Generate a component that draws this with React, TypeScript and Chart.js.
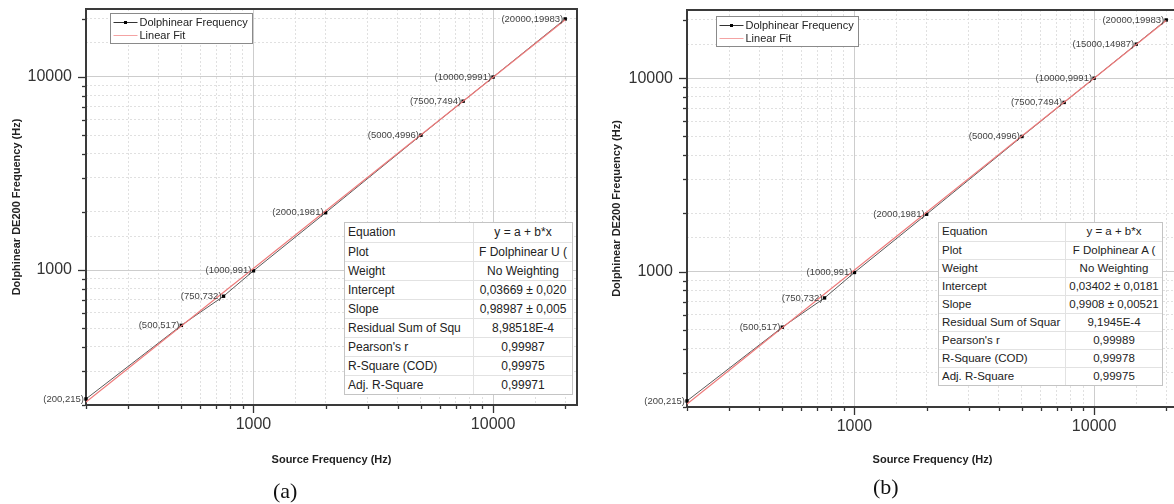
import React, { useEffect, useRef } from 'react';
import { Chart, registerables } from 'chart.js';

Chart.register(...registerables);

// ---------- data ----------
const sourceFreqA = [200, 500, 750, 1000, 2000, 5000, 7500, 10000, 20000];
const measuredA = [215, 517, 732, 991, 1981, 4996, 7494, 9991, 19983];
const fitXA = [200, 20000];
const fitYA = [207, 19800];

const sourceFreqB = [200, 500, 750, 1000, 2000, 5000, 7500, 10000, 15000, 20000];
const measuredB = [215, 517, 732, 991, 1981, 4996, 7494, 9991, 14987, 19983];
const fitXB = [200, 20000];
const fitYB = [207, 19850];

const axisMinX = 200;
const axisMaxX = 22400;
const axisMinY = 200;
const axisMaxY = 22500;
const labelledTicks = [1000, 10000];

const tableLabelsA = ['Equation', 'Plot', 'Weight', 'Intercept', 'Slope', 'Residual Sum of Squ', "Pearson's r", 'R-Square (COD)', 'Adj. R-Square'];
const tableValuesA = ['y = a + b*x', 'F Dolphinear U (', 'No Weighting', '0,03669 ± 0,020', '0,98987 ± 0,005', '8,98518E-4', '0,99987', '0,99975', '0,99971'];
const tableLabelsB = ['Equation', 'Plot', 'Weight', 'Intercept', 'Slope', 'Residual Sum of Squar', "Pearson's r", 'R-Square (COD)', 'Adj. R-Square'];
const tableValuesB = ['y = a + b*x', 'F Dolphinear A (', 'No Weighting', '0,03402 ± 0,0181', '0,9908 ± 0,00521', '9,1945E-4', '0,99989', '0,99978', '0,99975'];

const FONT = "'Liberation Sans', Arial, Helvetica, sans-serif";
const DATA_COLOR = '#5a5a5a';
const FIT_COLOR = '#ee7a7a';

function isMajorVal(v: any) {
  if (typeof v !== 'number' || v <= 0) return false;
  const l = Math.log10(v);
  return Math.abs(l - Math.round(l)) < 1e-9;
}
function isNiceVal(v: number) {
  if (v <= 0) return false;
  const p = Math.pow(10, Math.floor(Math.log10(v) + 1e-9));
  const s = v / p;
  return Math.abs(s - Math.round(s)) < 1e-6;
}

const originPlugin = {
  id: 'originStyle',
  beforeDatasetsDraw(chart: any) {
    const { ctx, chartArea: a } = chart;
    ctx.save();
    ctx.strokeStyle = '#3a3a3a';
    ctx.lineWidth = 2;
    ctx.strokeRect(a.left, a.top, a.right - a.left, a.bottom - a.top);
    ctx.restore();
  },
  afterDraw(chart: any, _args: any, opts: any) {
    const { ctx, chartArea: a, scales } = chart;
    ctx.save();
    // outward tick marks
    ctx.strokeStyle = '#333';
    ctx.lineWidth = 1.3;
    for (const t of scales.x.ticks) {
      if (!isNiceVal(t.value)) continue;
      const px = Math.round(scales.x.getPixelForValue(t.value)) + 0.5;
      const len = isMajorVal(t.value) ? 8 : 4;
      ctx.beginPath();
      ctx.moveTo(px, a.bottom + 1);
      ctx.lineTo(px, a.bottom + len);
      ctx.stroke();
    }
    for (const t of scales.y.ticks) {
      if (!isNiceVal(t.value)) continue;
      const py = Math.round(scales.y.getPixelForValue(t.value)) + 0.5;
      const len = isMajorVal(t.value) ? 8 : 4;
      ctx.beginPath();
      ctx.moveTo(a.left - 1, py);
      ctx.lineTo(a.left - len, py);
      ctx.stroke();
    }
    // point labels
    const ds = chart.data.datasets[1];
    const meta = chart.getDatasetMeta(1);
    ctx.font = `9.5px ${FONT}`;
    ctx.fillStyle = '#444';
    ctx.textAlign = 'right';
    ctx.textBaseline = 'middle';
    meta.data.forEach((el: any, i: number) => {
      const p = ds.data[i];
      ctx.fillText(`(${p.x},${p.y})`, el.x - 2, el.y);
    });
    // legend
    const bx = a.left + opts.legendX + 0.5;
    const by = a.top + opts.legendY + 0.5;
    const bw = 142;
    const bh = 30;
    ctx.fillStyle = '#fff';
    ctx.fillRect(bx, by, bw, bh);
    ctx.strokeStyle = '#8a8a8a';
    ctx.lineWidth = 1;
    ctx.strokeRect(bx, by, bw, bh);
    const items = [chart.data.datasets[1], chart.data.datasets[0]];
    items.forEach((d: any, i: number) => {
      const yy = by + 9 + i * 13;
      ctx.strokeStyle = i === 0 ? '#333' : '#f4a3a3';
      ctx.lineWidth = 1;
      ctx.beginPath();
      ctx.moveTo(bx + 3, yy);
      ctx.lineTo(bx + 27, yy);
      ctx.stroke();
      if (i === 0) {
        ctx.fillStyle = '#000';
        ctx.fillRect(bx + 13.5, yy - 1.5, 3, 3);
      }
      ctx.fillStyle = '#222';
      ctx.font = `11px ${FONT}`;
      ctx.textAlign = 'left';
      ctx.textBaseline = 'middle';
      ctx.fillText(d.label, bx + 29, yy + 0.5);
    });
    ctx.restore();
  },
};

const gridColor = (c: any) => (isMajorVal(c.tick?.value) ? '#cdcdcd' : '#e0e0e0');
const gridDash = (c: any) => (c.tick && !isMajorVal(c.tick.value) ? [2, 2] : []);
const tickCallback = (v: any) => (labelledTicks.includes(Number(v)) ? String(v) : '');
const zeroPadding = (s: any) => {
  s.paddingTop = 0;
  s.paddingBottom = 0;
  s.paddingLeft = 0;
  s.paddingRight = 0;
};

type PanelProps = {
  left: number;
  xs: number[];
  ys: number[];
  fitX: number[];
  fitY: number[];
  padTop: number;
  xAxisH: number;
  yAxisW: number;
  plotRight: number;
  legendX: number;
  legendY: number;
};

function ChartPanel(props: PanelProps) {
  const ref = useRef<HTMLCanvasElement>(null);
  useEffect(() => {
    const W = 600;
    const chart = new Chart(ref.current as HTMLCanvasElement, {
      type: 'scatter',
      data: {
        datasets: [
          {
            label: 'Linear Fit',
            data: props.fitX.map((x, i) => ({ x, y: props.fitY[i] })),
            showLine: true,
            borderColor: FIT_COLOR,
            borderWidth: 1.2,
            pointRadius: 0,
            order: 0,
          },
          {
            label: 'Dolphinear Frequency',
            data: props.xs.map((x, i) => ({ x, y: props.ys[i] })),
            showLine: true,
            borderColor: DATA_COLOR,
            borderWidth: 1,
            pointStyle: 'rect',
            pointRadius: 2.4,
            pointBackgroundColor: '#000',
            pointBorderColor: '#000',
            pointBorderWidth: 0,
            clip: false,
            order: 1,
          },
        ],
      },
      options: {
        responsive: false,
        animation: false,
        devicePixelRatio: 1,
        layout: { padding: { top: props.padTop, right: W - props.plotRight, left: 0, bottom: 0 } },
        plugins: {
          legend: { display: false },
          tooltip: { enabled: false },
          originStyle: { legendX: props.legendX, legendY: props.legendY },
        } as any,
        scales: {
          x: {
            type: 'logarithmic',
            position: 'bottom',
            min: axisMinX,
            max: axisMaxX,
            afterFit: (s: any) => {
              s.height = props.xAxisH;
              zeroPadding(s);
            },
            ticks: {
              autoSkip: false,
              maxRotation: 0,
              minRotation: 0,
              padding: 10,
              color: '#333',
              font: { family: FONT, size: 16 },
              callback: tickCallback,
            },
            grid: { drawTicks: false, color: gridColor, lineWidth: 1 },
            border: { display: false, dash: gridDash },
            title: {
              display: true,
              text: 'Source Frequency (Hz)',
              color: '#222',
              font: { family: FONT, size: 11, weight: 'bold' },
              padding: { top: 0, bottom: 37 },
            },
          },
          y: {
            type: 'logarithmic',
            position: 'left',
            min: axisMinY,
            max: axisMaxY,
            afterFit: (s: any) => {
              s.width = props.yAxisW;
              zeroPadding(s);
            },
            ticks: {
              autoSkip: false,
              padding: 14,
              color: '#333',
              font: { family: FONT, size: 16 },
              callback: tickCallback,
            },
            grid: { drawTicks: false, color: gridColor, lineWidth: 1 },
            border: { display: false, dash: gridDash },
            title: {
              display: true,
              text: 'Dolphinear DE200 Frequency (Hz)',
              color: '#222',
              font: { family: FONT, size: 11, weight: 'bold' },
              padding: { top: 10, bottom: 0 },
            },
          },
        } as any,
      },
      plugins: [originPlugin as any],
    });
    return () => chart.destroy();
  }, []);
  return (
    <canvas
      ref={ref}
      width={600}
      height={504}
      style={{ position: 'absolute', left: props.left, top: 0, width: 600, height: 504, display: 'block' }}
    />
  );
}

type TableProps = {
  left: number;
  top: number;
  rowH: number;
  labelW: number;
  valueW: number;
  fontSize: number;
  labels: string[];
  values: string[];
};

function StatsTable(p: TableProps) {
  return (
    <div
      style={{
        position: 'absolute',
        left: p.left,
        top: p.top,
        border: '1px solid #c4c4c4',
        background: '#fff',
        fontFamily: FONT,
        fontSize: p.fontSize,
        color: '#222',
      }}
    >
      {p.labels.map((l, i) => (
        <div
          key={i}
          style={{
            display: 'flex',
            height: p.rowH,
            boxSizing: 'border-box',
            borderTop: i ? '1px solid #e2e2e2' : 'none',
          }}
        >
          <div
            style={{
              width: p.labelW,
              boxSizing: 'border-box',
              paddingLeft: 3,
              borderRight: '1px solid #e2e2e2',
              lineHeight: `${p.rowH - 1}px`,
              whiteSpace: 'nowrap',
              overflow: 'hidden',
            }}
          >
            {l}
          </div>
          <div
            style={{
              width: p.valueW,
              textAlign: 'center',
              lineHeight: `${p.rowH - 1}px`,
              whiteSpace: 'nowrap',
              overflow: 'hidden',
            }}
          >
            {p.values[i]}
          </div>
        </div>
      ))}
    </div>
  );
}

export default function App() {
  return (
    <div
      style={{
        position: 'fixed',
        left: 0,
        top: 0,
        width: 1174,
        height: 504,
        overflow: 'hidden',
        background: '#fff',
      }}
    >
      <ChartPanel
        left={0}
        xs={sourceFreqA}
        ys={measuredA}
        fitX={fitXA}
        fitY={fitYA}
        padTop={9}
        xAxisH={99}
        yAxisW={86}
        plotRight={577}
        legendX={24}
        legendY={4}
      />
      <ChartPanel
        left={600}
        xs={sourceFreqB}
        ys={measuredB}
        fitX={fitXB}
        fitY={fitYB}
        padTop={10}
        xAxisH={97}
        yAxisW={87}
        plotRight={578}
        legendX={29}
        legendY={6}
      />
      <StatsTable
        left={344}
        top={222}
        rowH={19}
        labelW={129}
        valueW={98}
        fontSize={12}
        labels={tableLabelsA}
        values={tableValuesA}
      />
      <StatsTable
        left={938}
        top={222}
        rowH={18}
        labelW={127}
        valueW={96}
        fontSize={11.5}
        labels={tableLabelsB}
        values={tableValuesB}
      />
      <div style={{ position: 'absolute', left: 273, top: 480, fontFamily: "'Liberation Serif', 'Times New Roman', serif", fontSize: 22, lineHeight: '22px', color: '#111' }}>
        (a)
      </div>
      <div style={{ position: 'absolute', left: 873, top: 476, fontFamily: "'Liberation Serif', 'Times New Roman', serif", fontSize: 22, lineHeight: '22px', color: '#111' }}>
        (b)
      </div>
    </div>
  );
}
